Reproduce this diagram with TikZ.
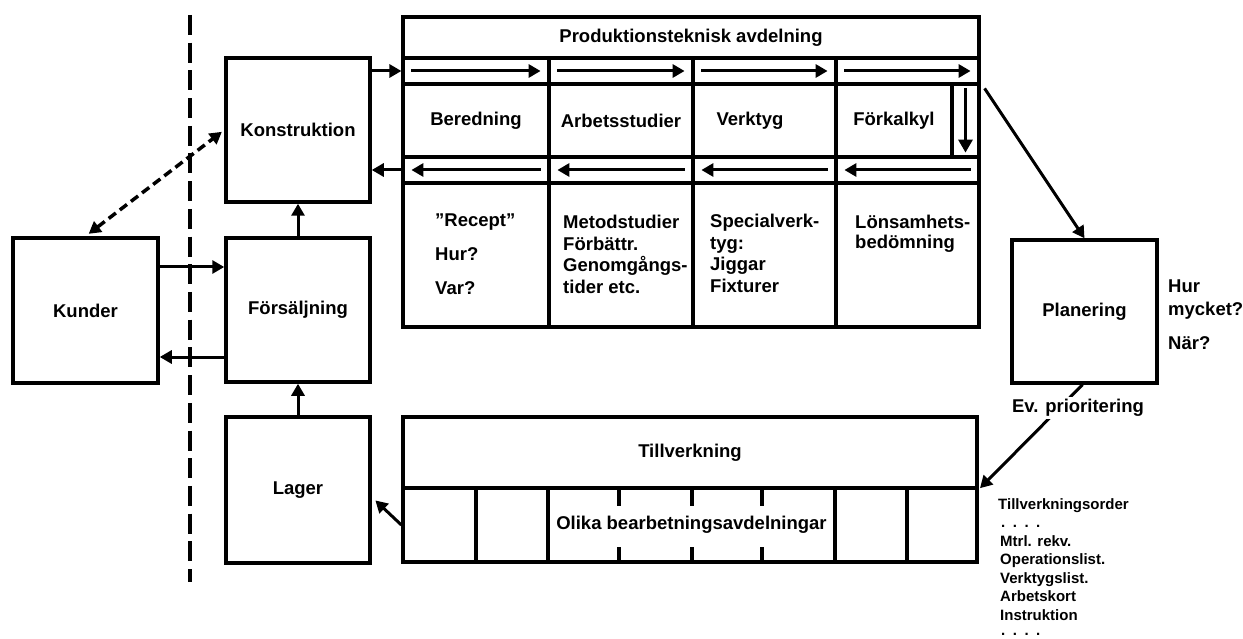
\documentclass[tikz,border=0pt]{standalone}
\usepackage{fontspec}
\setmainfont{Liberation Sans}
\usetikzlibrary{arrows.meta,calc}
\newcommand\mlines[2]{\vtop{\baselineskip=#1\relax\lineskiplimit=-100pt\relax #2}}
\tikzset{
  lbl/.style={font=\bfseries\fontsize{18.5}{16.5}\selectfont, inner sep=0pt},
  small/.style={font=\bfseries\fontsize{15}{18.5}\selectfont, inner sep=0pt},
  box/.style={draw, line width=3.5pt, inner sep=0pt, font=\bfseries\fontsize{18.5}{16.5}\selectfont},
  cell/.style={draw, line width=3.2pt, inner sep=0pt, font=\bfseries\fontsize{18.5}{16.5}\selectfont},
  arr/.style={line width=3pt, -{Triangle[length=12pt,width=13pt]}},
  inarr/.style={line width=3pt, -{Triangle[length=12pt,width=13pt]}, shorten <=10pt, shorten >=10pt},
  sep/.style={line width=3.3pt, dash pattern=on 20pt off 7.7pt},
  dasharr/.style={line width=3.5pt, dash pattern=on 9pt off 5pt, {Triangle[length=12pt,width=13pt]}-{Triangle[length=12pt,width=13pt]}},
}
\begin{document}
\begin{tikzpicture}[x=1pt,y=-1pt]
\useasboundingbox (0,0) rectangle (1243,639);

% separator
\coordinate (sepT) at (190,15);
\coordinate (sepB) at (190,582);
\draw[sep] (sepT) -- (sepB);

% main boxes
\node[box, minimum width=145pt, minimum height=145pt] (kund) at (85.5,310.5) {Kunder};
\node[box, minimum width=144pt, minimum height=144pt] (kons) at (298,130) {Konstruktion};
\node[box, minimum width=144pt, minimum height=144pt] (fors) at (298,310) {Försäljning};
\node[box, minimum width=144pt, minimum height=146pt] (lager) at (298,490) {Lager};
\node[box, minimum width=145pt, minimum height=143pt] (plan) at (1084.5,311.5) {Planering};

% top table
\node[cell, minimum width=576pt, minimum height=41pt] (head) at (691,37.5) {Produktionsteknisk avdelning};
\node[cell, minimum width=146pt, minimum height=26pt] (a1) at (476,71) {};
\node[cell, minimum width=144pt, minimum height=26pt] (a2) at (621,71) {};
\node[cell, minimum width=143pt, minimum height=26pt] (a3) at (764.5,71) {};
\node[cell, minimum width=143pt, minimum height=26pt] (a4) at (907.5,71) {};
\node[cell, minimum width=146pt, minimum height=73pt] (t1) at (476,120.5) {Beredning};
\node[cell, minimum width=144pt, minimum height=73pt] (t2) at (621,120.5) {Arbetsstudier};
\node[cell, minimum width=143pt, minimum height=73pt] (t3) at (764.5,120.5) {};
\node[lbl] (verk) at (750,120.5) {Verktyg};
\node[cell, minimum width=116pt, minimum height=73pt] (t4) at (894,120.5) {Förkalkyl};
\node[cell, minimum width=27pt, minimum height=73pt] (t5) at (965.5,120.5) {};
\node[cell, minimum width=146pt, minimum height=26pt] (b1) at (476,170) {};
\node[cell, minimum width=144pt, minimum height=26pt] (b2) at (621,170) {};
\node[cell, minimum width=143pt, minimum height=26pt] (b3) at (764.5,170) {};
\node[cell, minimum width=143pt, minimum height=26pt] (b4) at (907.5,170) {};
\node[cell, minimum width=146pt, minimum height=144pt] (d1) at (476,255) {};
\node[cell, minimum width=144pt, minimum height=144pt] (d2) at (621,255) {};
\node[cell, minimum width=143pt, minimum height=144pt] (d3) at (764.5,255) {};
\node[cell, minimum width=143pt, minimum height=144pt] (d4) at (907.5,255) {};

\node[lbl, anchor=base west] (d1t) at (435,227) {\mlines{34pt}{\hbox{"Recept"}\hbox{Hur?}\hbox{Var?}}};
\node[lbl, anchor=base west] (d2t) at (563,229) {\mlines{21.5pt}{\hbox{Metodstudier}\hbox{Förbättr.}\hbox{Genomgångs-}\hbox{tider etc.}}};
\node[lbl, anchor=base west] (d3t) at (710,228) {\mlines{21.5pt}{\hbox{Specialverk-}\hbox{tyg:}\hbox{Jiggar}\hbox{Fixturer}}};
\node[lbl, anchor=base west] (d4t) at (855,229) {\mlines{20pt}{\hbox{Lönsamhets-}\hbox{bedömning}}};

% arrows inside top table
\draw[inarr] (a1.west) -- (a1.east);
\draw[inarr] (a2.west) -- (a2.east);
\draw[inarr] (a3.west) -- (a3.east);
\draw[inarr] (a4.west) -- (a4.east);
\draw[inarr] (b1.east) -- (b1.west);
\draw[inarr] (b2.east) -- (b2.west);
\draw[inarr] (b3.east) -- (b3.west);
\draw[inarr] (b4.east) -- (b4.west);
\draw[line width=3pt, -{Triangle[length=13pt,width=14pt]}, shorten <=6pt, shorten >=6pt] (t5.north) -- (t5.south);

% bottom table
\node[cell, minimum width=574pt, minimum height=71pt] (till) at (690,452.5) {Tillverkning};
\node[cell, minimum width=73pt, minimum height=74pt] (l1) at (439.5,525) {};
\node[cell, minimum width=72pt, minimum height=74pt] (l2) at (512,525) {};
\node[cell, minimum width=287pt, minimum height=74pt] (l3) at (691.5,525) {Olika bearbetningsavdelningar};
\node[cell, minimum width=72pt, minimum height=74pt] (l4) at (871,525) {};
\node[cell, minimum width=70pt, minimum height=74pt] (l5) at (942,525) {};
\foreach \x in {619,692,762}{
  \draw[line width=3.2pt] (\x,0 |- l3.north) -- ++(0,20);
  \draw[line width=3.2pt] (\x,0 |- l3.south) -- ++(0,-17);
}

% connectors
\draw[arr] (kons.east |- a1.west) -- (a1.west);
\draw[arr] (b1.west) -- (kons.east |- b1.west);
\draw[arr] (fors.north) -- (kons.south);
\draw[arr] (lager.north) -- (fors.south);
\draw[arr] ([yshift=43.5pt]kund.east) -- ([yshift=43pt]fors.west);
\draw[arr] ([yshift=-47pt]fors.west) -- ([yshift=-46.5pt]kund.east);
\draw[dasharr, shorten <=4pt, shorten >=3pt] (kund.north) -- (kons.west);
\draw[arr] ([xshift=4pt,yshift=-6pt]t5.north east) -- (plan.north);
\draw[arr, shorten >=2pt] ([xshift=-2pt]plan.south) -- (till.south east);
\draw[arr, shorten >=5pt] (l1.west) -- ([yshift=-7pt]lager.east);

% texts
\node[lbl, fill=white, inner sep=2pt] (prio) at (1078,408) {Ev. prioritering};
\node[lbl, anchor=base west] (hur) at (1168,293) {\mlines{23pt}{\hbox{Hur}\hbox{mycket?}\vskip11pt\hbox{När?}}};
\node[small, anchor=base west] (order) at (998,509) {\mlines{18.5pt}{\hbox{Tillverkningsorder}\hbox{\hspace{3pt}.\hspace{7.5pt}.\hspace{7.5pt}.\hspace{7.5pt}.}\hbox{\hspace{2pt}Mtrl. rekv.}\hbox{\hspace{2pt}Operationslist.}\hbox{\hspace{2pt}Verktygslist.}\hbox{\hspace{2pt}Arbetskort}\hbox{\hspace{2pt}Instruktion}\vskip-3pt\hbox{\hspace{3pt}.\hspace{7.5pt}.\hspace{7.5pt}.\hspace{7.5pt}.}}};
\end{tikzpicture}
\end{document}
